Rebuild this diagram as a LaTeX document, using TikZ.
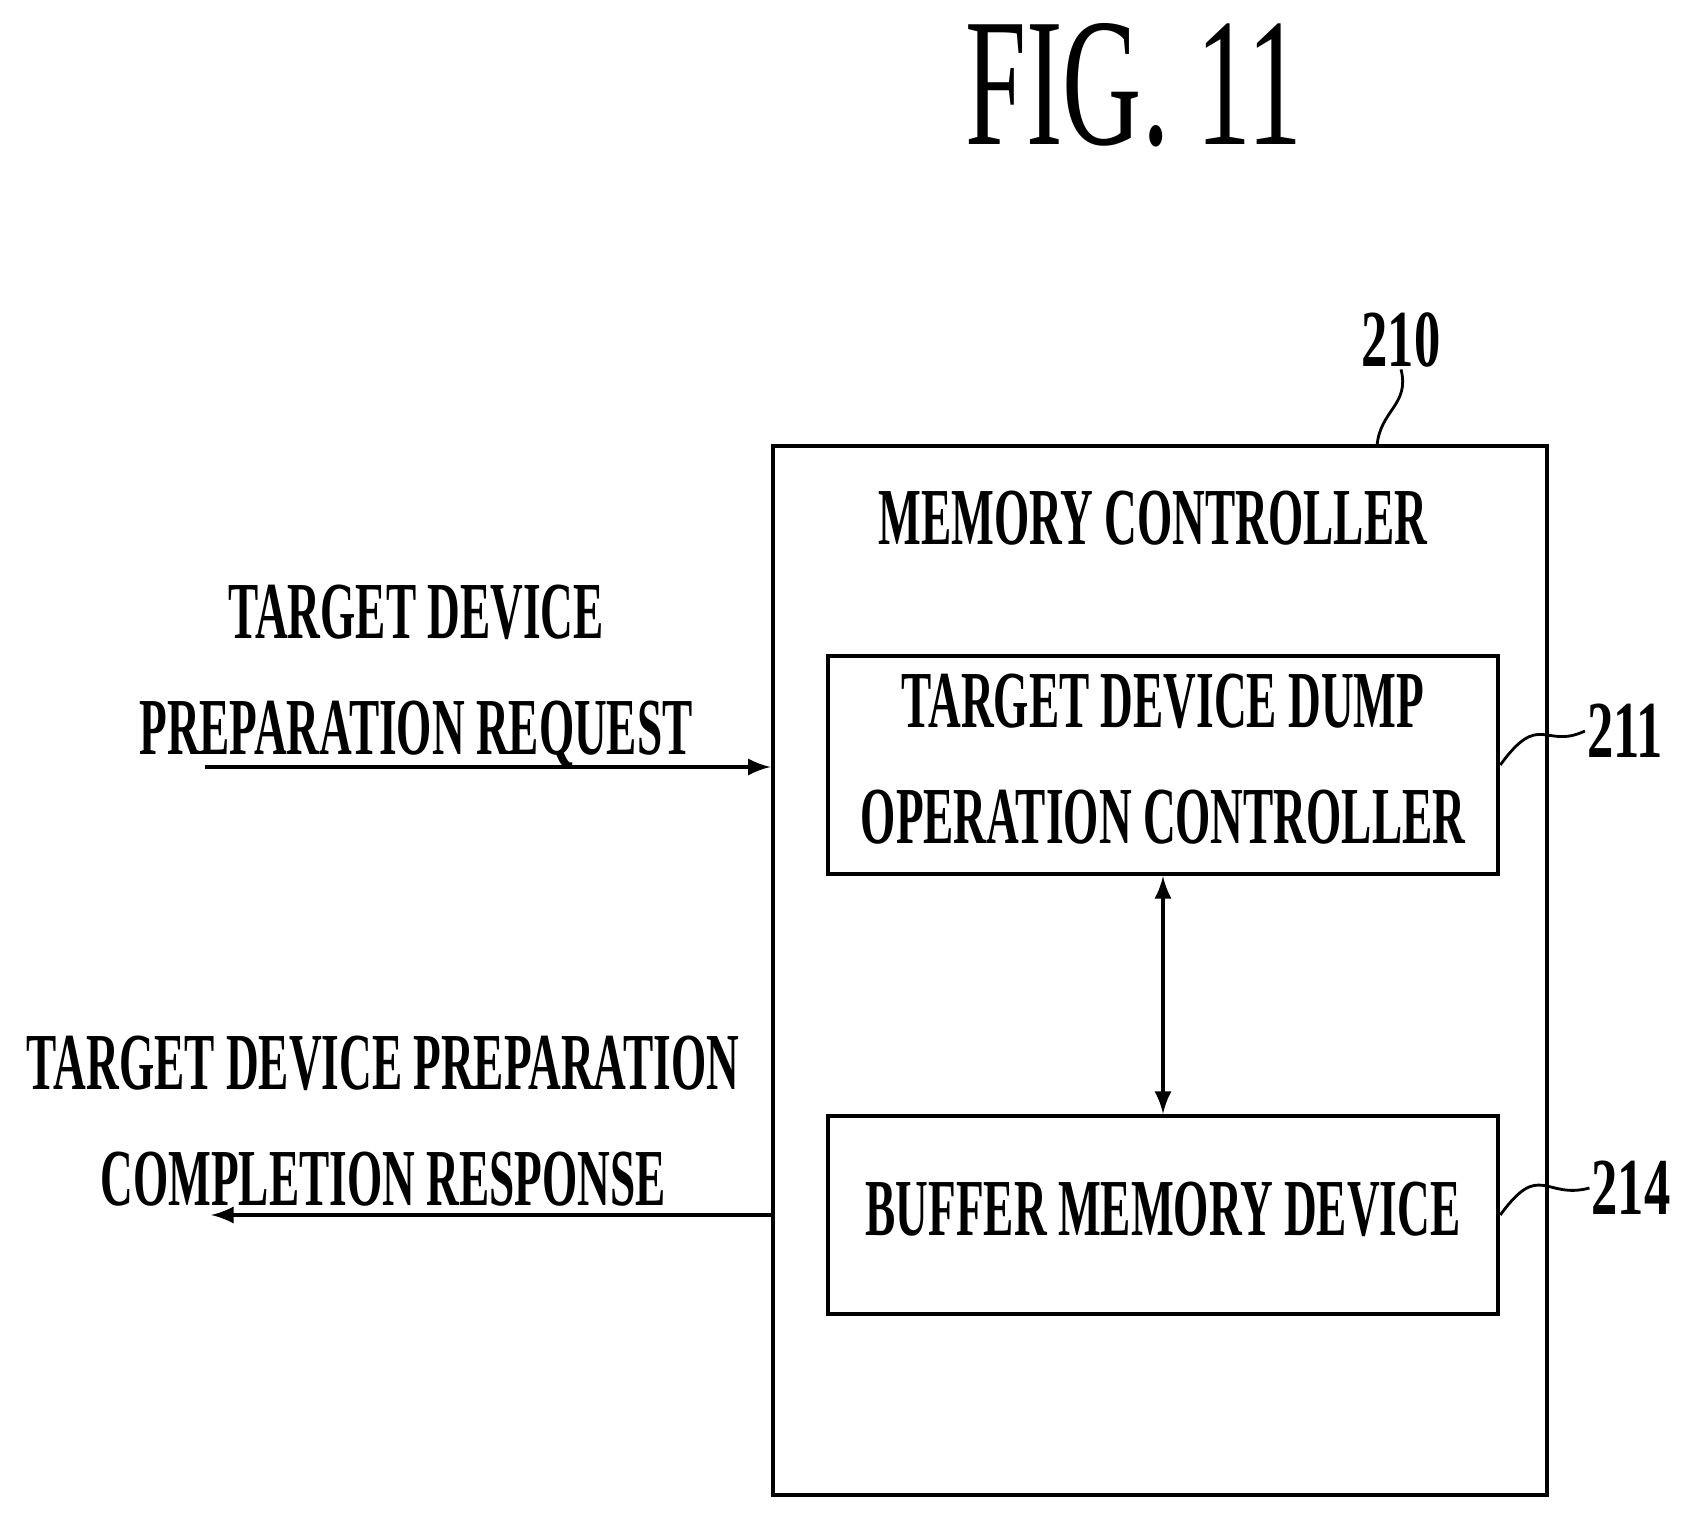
\documentclass[tikz,border=0pt]{standalone}
\usepackage{fontspec}
\setmainfont{Liberation Serif}
\usetikzlibrary{positioning}
\newcommand{\cond}[1]{\scalebox{0.56}[1]{\begin{tabular}{@{}c@{}}#1\end{tabular}}}
\begin{document}
\begin{tikzpicture}[x=0.01cm, y=-0.01cm, line width=1.2pt, >=latex,
  block/.style={draw, minimum width=6.7cm, minimum height=1.98cm, inner sep=0pt},
  lbl/.style={font=\bfseries\fontsize{23}{29}\selectfont, inner sep=0pt, align=center},
  ref/.style={font=\bfseries\fontsize{23}{29}\selectfont, inner sep=0pt}]
\useasboundingbox (0,0) rectangle (1690,1519);

\node[font=\fontsize{52}{60}\selectfont, inner sep=0pt] (fig) at (1134,85) {\scalebox{0.6}[1]{FIG. 11}};

% memory controller
\node[draw, minimum width=7.74cm, minimum height=10.49cm, inner sep=0pt] (mc) at (1160,970.5) {};
\node[lbl] (mctitle) at (1153,524) {\cond{MEMORY CONTROLLER}};

\node[block, lbl] (dump) at (1163,765) {\cond{TARGET DEVICE DUMP\\[4pt]OPERATION CONTROLLER}};
\node[block, lbl] (buf) at (1163,1215) {\cond{BUFFER MEMORY DEVICE}};
\draw[<->] (dump.south) -- (buf.north);

% reference numerals
\node[ref] (n210) at (1401,340) {\scalebox{0.65}[1]{210}};
\node[ref] (n211) at (1625,731) {\scalebox{0.65}[1]{211}};
\node[ref] (n214) at (1631,1188) {\scalebox{0.65}[1]{214}};
\draw[line width=0.8pt] (1377,446) .. controls (1380,410) and (1410,405) .. (n210.south);
\draw[line width=0.8pt] (dump.east) .. controls (1540,710) and (1545,750) .. (n211.west);
\draw[line width=0.8pt] (buf.east) .. controls (1540,1160) and (1545,1200) .. (n214.west);

% signals
\coordinate (inL) at (205,767);
\coordinate (outL) at (211,1215);
\draw[->] (inL) -- (inL -| mc.west);
\draw[->] (outL -| mc.west) -- (outL);
\node[lbl] (req) at (416,676) {\cond{TARGET DEVICE\\[4pt]PREPARATION REQUEST}};
\node[lbl] (resp) at (383,1127) {\cond{TARGET DEVICE PREPARATION\\[4pt]COMPLETION RESPONSE}};
\end{tikzpicture}
\end{document}
